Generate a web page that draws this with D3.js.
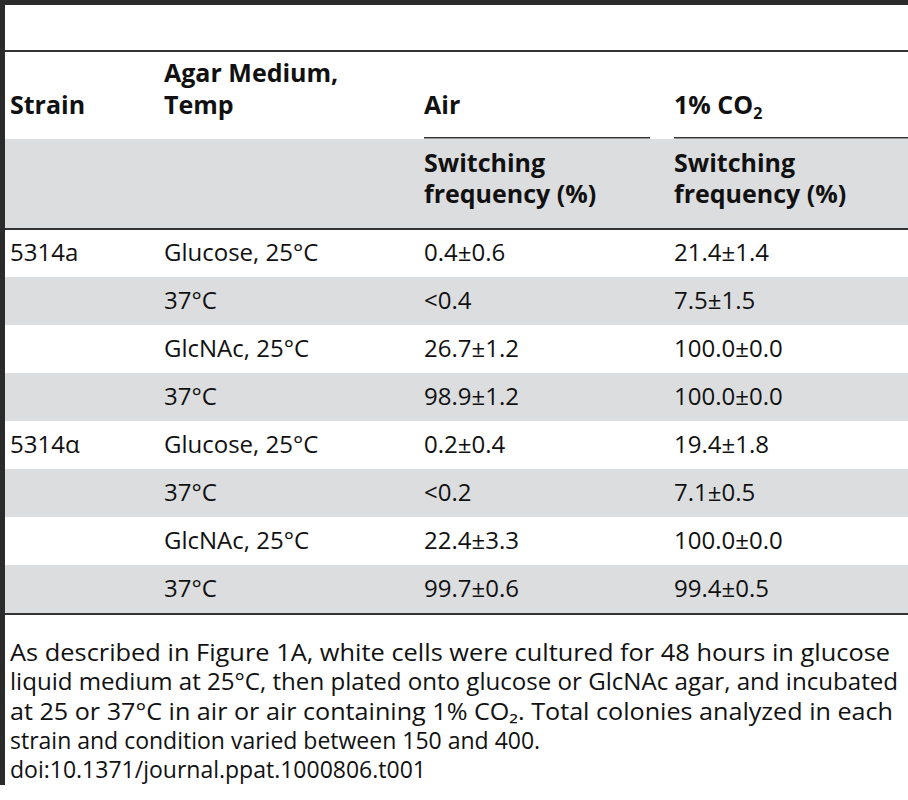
<!DOCTYPE html>
<html><head><meta charset="utf-8">
<script src="https://cdn.jsdelivr.net/npm/d3@7/dist/d3.min.js"></script>
<style>body{margin:0;background:#fff}</style></head>
<body><svg id="c" width="908" height="800"></svg>
<script>
const strains = ["5314a","","","","5314α","","",""];
const media = ["Glucose, 25°C","37°C","GlcNAc, 25°C","37°C","Glucose, 25°C","37°C","GlcNAc, 25°C","37°C"];
const airVals = ["0.4±0.6","<0.4","26.7±1.2","98.9±1.2","0.2±0.4","<0.2","22.4±3.3","99.7±0.6"];
const co2Vals = ["21.4±1.4","7.5±1.5","100.0±0.0","100.0±0.0","19.4±1.8","7.1±0.5","100.0±0.0","99.4±0.5"];
const caption = [
 "As described in Figure 1A, white cells were cultured for 48 hours in glucose",
 "liquid medium at 25°C, then plated onto glucose or GlcNAc agar, and incubated",
 "at 25 or 37°C in air or air containing 1% CO₂. Total colonies analyzed in each",
 "strain and condition varied between 150 and 400.",
 "doi:10.1371/journal.ppat.1000806.t001"];
const capFull = [880,888,883,null,null];

const svg = d3.select("#c");
const F = "'Open Sans',sans-serif";
const colX = [10,164,424,674];
const y = d3.scaleBand().domain(d3.range(8)).range([229,613]);

svg.append("rect").attr("x",5).attr("y",139).attr("width",903).attr("height",90).attr("fill","#dcdddf");
svg.selectAll("rect.s").data(d3.range(8).filter(i=>i%2==1)).join("rect")
 .attr("x",5).attr("y",i=>y(i)).attr("width",903).attr("height",y.bandwidth()).attr("fill","#dcdddf");
svg.append("rect").attr("x",0).attr("y",0).attr("width",908).attr("height",5).attr("fill","#2b2b2b");
svg.append("rect").attr("x",0).attr("y",0).attr("width",5).attr("height",785).attr("fill","#2b2b2b");
[[50,2],[228,2],[613,2]].forEach(([yy,h])=>svg.append("rect").attr("x",5).attr("y",yy).attr("width",903).attr("height",h).attr("fill","#333"));
svg.append("rect").attr("x",424).attr("y",137).attr("width",226).attr("height",1.5).attr("fill","#333");
svg.append("rect").attr("x",674).attr("y",137).attr("width",234).attr("height",1.5).attr("fill","#333");

function t(x,yy,s,bold,size){return svg.append("text").attr("x",x).attr("y",yy).text(s)
 .attr("font-family",F).attr("font-size",size||24).attr("font-weight",bold?"bold":"normal").attr("fill","#111");}
t(colX[1],82,"Agar Medium,",1,25);
t(colX[0],114,"Strain",1,25); t(colX[1],114,"Temp",1,25); t(colX[2],114,"Air",1,25);
const co=t(colX[3],114,"1% CO",1,25); co.append("tspan").attr("font-size",16).attr("dy",5).text("2");
[2,3].forEach(c=>{t(colX[c],172,"Switching",1,25); t(colX[c],203,"frequency (%)",1,25);});

const cols=[strains,media,airVals,co2Vals];
cols.forEach((arr,c)=>{
 svg.selectAll(null).data(arr).join("text").attr("x",colX[c]).attr("y",(d,i)=>y(i)+y.bandwidth()/2+8)
  .attr("font-family",F).attr("font-size",24).attr("fill","#111").text(d=>d);
});
caption.forEach((s,i)=>{const e=t(10,661+i*29.3,s,0,23); if(capFull[i]) e.attr("textLength",capFull[i]).attr("lengthAdjust","spacingAndGlyphs");});
</script></body></html>
